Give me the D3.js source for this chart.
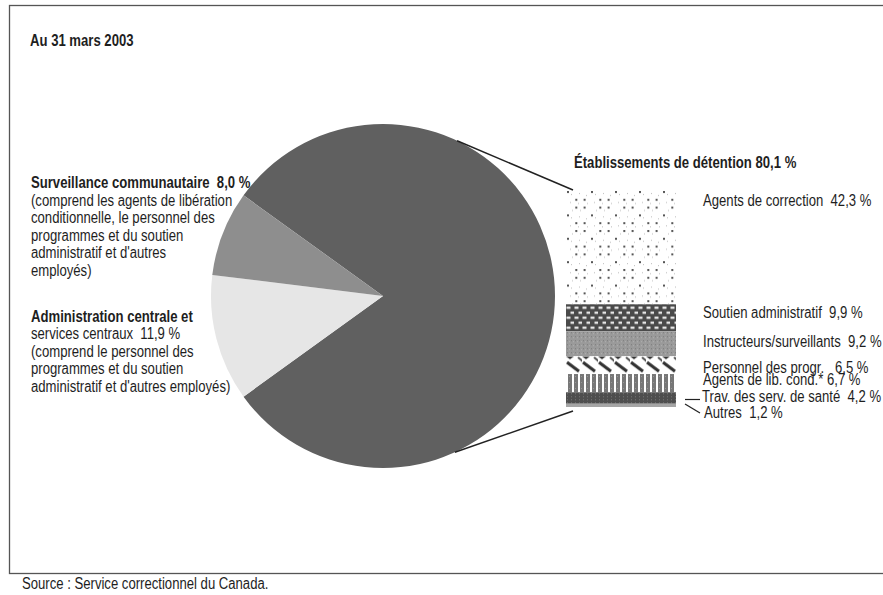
<!DOCTYPE html>
<html>
<head>
<meta charset="utf-8">
<script src="https://cdn.jsdelivr.net/npm/d3@7"></script>
<style>
  html, body { margin: 0; padding: 0; background: #fff; }
  svg { display: block; }
  text { font-family: "Liberation Sans", Arial, sans-serif; fill: #1e1e1e; white-space: pre; }
</style>
</head>
<body>
<svg id="chart" width="883" height="595"></svg>
<script>
// ---- Data ----
const title = "Au 31 mars 2003";
const source = "Source : Service correctionnel du Canada.";
const categories = ["Établissements de détention", "Administration centrale et services centraux", "Surveillance communautaire"];
const shares = [80.1, 11.9, 8.0];
const subCategories = ["Agents de correction", "Soutien administratif", "Instructeurs/surveillants",
  "Personnel des progr.", "Agents de lib. cond.*", "Trav. des serv. de santé", "Autres"];
const subShares = [42.3, 9.9, 9.2, 6.5, 6.7, 4.2, 1.2];
const survNote = ["(comprend les agents de libération", "conditionnelle, le personnel des",
  "programmes et du soutien", "administratif et d'autres", "employés)"];
const adminNote = ["(comprend le personnel des", "programmes et du soutien",
  "administratif et d'autres employés)"];

// ---- Layout ----
const svg = d3.select("#chart");
const fr = d3.formatLocale({decimal: ",", thousands: " ", grouping: [3], currency: ["", ""]});
const pct = v => fr.format(".1f")(v) + " %";
const FS = 16, SX = 0.82;   // Arial-Narrow look: Liberation Sans condensed horizontally
function txt(x, y, str, bold) {
  return svg.append("text")
    .attr("transform", `translate(${x},${y}) scale(${SX},1)`)
    .attr("font-size", FS).attr("font-weight", bold ? "bold" : "normal")
    .text(str);
}

const pieColors = ["#606060", "#e6e6e6", "#8e8e8e"];
const cx = 383, cy = 296, R = 172;

// frame
svg.append("rect").attr("x", 9.5).attr("y", 5.5).attr("width", 900).attr("height", 568)
  .attr("fill", "none").attr("stroke", "#555").attr("stroke-width", 1.3);

txt(30, 46, title, true);
txt(22, 589, source, false);

// ---- Pie ----
const half = Math.PI * shares[0] / 100;
const start = Math.PI / 2 - half;
const pie = d3.pie().sort(null).startAngle(start).endAngle(start + 2 * Math.PI);
const arc = d3.arc().innerRadius(0).outerRadius(R);
const g = svg.append("g").attr("transform", `translate(${cx},${cy})`);
g.selectAll("path").data(pie(shares)).join("path")
  .attr("d", arc).attr("fill", (d, i) => pieColors[i]);

// ---- Stacked bar ----
const barX = 566, barW = 110;
const y = d3.scaleLinear().domain([0, 80]).range([189, 407]);
let cum = 0;
const segs = subShares.map((v, i) => { const s = {i, v, y0: cum, y1: cum + v}; cum += v; return s; });

const defs = svg.append("defs");
function pat(id, w, h, yOff, draw) {
  const p = defs.append("pattern").attr("id", id).attr("patternUnits", "userSpaceOnUse")
    .attr("x", barX).attr("y", yOff).attr("width", w).attr("height", h);
  draw(p);
}
const yTop = s => y(s.y0);
const yBot = s => y(s.y1);

segs.forEach(s => {
  const id = "p" + s.i, y0 = yTop(s);
  if (s.i === 0) pat(id, 24, 23.4, y0 + 1, p => {
    p.append("rect").attr("width", 24).attr("height", 23.4).attr("fill", "#fff");
    [[1, 1], [9.3, 8.8], [17.6, 8.8], [9.3, 16.6], [17.6, 16.6]].forEach(([a, b]) =>
      p.append("rect").attr("x", a).attr("y", b).attr("width", 2).attr("height", 2).attr("fill", "#555"));
    [[5, 4], [13, 3], [21, 13], [4, 12], [14, 20], [6, 20], [20, 5], [12, 13]].forEach(([a, b]) =>
      p.append("rect").attr("x", a).attr("y", b).attr("width", 1).attr("height", 1).attr("fill", "#bbb"));
  });
  if (s.i === 1) pat(id, 8, 10, y0 + 1, p => {
    p.append("rect").attr("width", 8).attr("height", 10).attr("fill", "#4a4a4a");
    p.append("rect").attr("x", 0.5).attr("y", 1.5).attr("width", 4).attr("height", 2).attr("fill", "#fff");
    p.append("rect").attr("x", 4.5).attr("y", 6.5).attr("width", 4).attr("height", 2).attr("fill", "#fff");
  });
  if (s.i === 2) pat(id, 4, 4, y0, p => {
    p.append("rect").attr("width", 4).attr("height", 4).attr("fill", "#9a9a9a");
    p.append("rect").attr("x", 1).attr("y", 1).attr("width", 1).attr("height", 1).attr("fill", "#7a7a7a");
    p.append("rect").attr("x", 3).attr("y", 2).attr("width", 1).attr("height", 1).attr("fill", "#b0b0b0");
  });
  if (s.i === 3) pat(id, 16, 18, y0, p => {
    p.append("rect").attr("width", 16).attr("height", 18).attr("fill", "#fff");
    p.append("path").attr("d", "M0,0 L8,0 L4,3 Z").attr("fill", "#333");
    p.append("path").attr("d", "M1,6 L13,15").attr("stroke", "#333").attr("stroke-width", 3.2);
    p.append("path").attr("d", "M12,1 L18,6").attr("stroke", "#555").attr("stroke-width", 2);
  });
  if (s.i === 4) pat(id, 6, 6, y0, p => {
    p.append("rect").attr("width", 6).attr("height", 6).attr("fill", "#fff");
    p.append("rect").attr("x", 2).attr("width", 4).attr("height", 6).attr("fill", "#777");
    p.append("rect").attr("x", 3).attr("y", 2).attr("width", 1).attr("height", 1).attr("fill", "#999");
  });
  if (s.i === 5) pat(id, 4, 3, y0, p => {
    p.append("rect").attr("width", 4).attr("height", 3).attr("fill", "#4e4e4e");
    p.append("rect").attr("x", 1).attr("y", 1).attr("width", 1).attr("height", 1).attr("fill", "#777");
  });
  if (s.i === 6) pat(id, 4, 4, y0, p => {
    p.append("rect").attr("width", 4).attr("height", 4).attr("fill", "#a5a5a5");
  });
});

svg.append("g").selectAll("rect").data(segs).join("rect")
  .attr("x", barX).attr("width", barW)
  .attr("y", d => yTop(d)).attr("height", d => yBot(d) - yTop(d))
  .attr("fill", d => `url(#p${d.i})`);

// connector lines from pie to bar
const a1 = 25.5 * Math.PI / 180, a2 = 155.3 * Math.PI / 180;
svg.append("line").attr("x1", cx + R * Math.sin(a1)).attr("y1", cy - R * Math.cos(a1))
  .attr("x2", barX + 7).attr("y2", yTop(segs[0]) + 1).attr("stroke", "#222").attr("stroke-width", 1.5);
svg.append("line").attr("x1", cx + R * Math.sin(a2)).attr("y1", cy - R * Math.cos(a2))
  .attr("x2", barX + 7).attr("y2", yBot(segs[6]) + 4).attr("stroke", "#222").attr("stroke-width", 1.5);

// bar title
txt(574, 168, categories[0] + " " + pct(shares[0]), true);

// sub labels
const labelBase = [206, 318, 346.5, 372.5, 385, 401.5, 418];
const labelX = [703, 703, 703, 703, 703, 702, 704];
const gaps = ["  ", "  ", "  ", "   ", " ", "  ", "  "];
segs.forEach((s, i) => txt(labelX[i], labelBase[i], subCategories[i] + gaps[i] + pct(s.v), false));

// leader lines for small segments
svg.append("line").attr("x1", 685).attr("y1", 399.5).attr("x2", 700).attr("y2", 399.5)
  .attr("stroke", "#222").attr("stroke-width", 1.2);
svg.append("line").attr("x1", 685).attr("y1", 404).attr("x2", 700).attr("y2", 413)
  .attr("stroke", "#222").attr("stroke-width", 1.2);

// left labels
const L = 31, lh = 17.4;
txt(L, 188, categories[2] + "  " + pct(shares[2]), true);
survNote.forEach((s, i) => txt(L, 206 + i * lh, s, false));
txt(L, 322, "Administration centrale et", true);
txt(L, 339.4, "services centraux  " + pct(shares[1]), false);
adminNote.forEach((s, i) => txt(L, 356.8 + i * lh, s, false));
</script>
</body>
</html>
